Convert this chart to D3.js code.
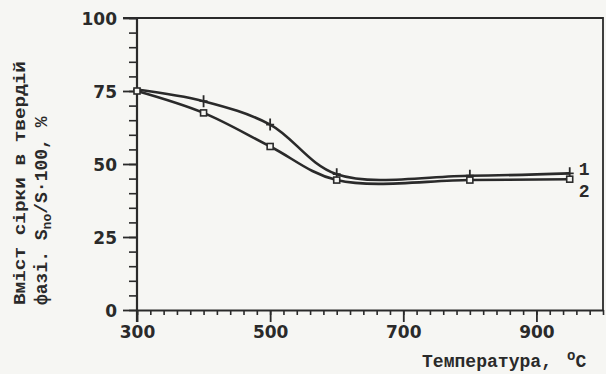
<!DOCTYPE html>
<html>
<head>
<meta charset="utf-8">
<script src="https://cdn.jsdelivr.net/npm/d3@7"></script>
<style>
  body { margin: 0; background: #f6f6f3; }
  svg { display: block; }
  .tick text { font-family: "DejaVu Sans", sans-serif; font-weight: bold; fill: #2a2a2a; }
  .domain, .tick line { stroke: #2a2a2a; }
</style>
</head>
<body>
<div id="chart"></div>
<script>
// temperatures (°C) where the points were measured
var temps = [300, 400, 500, 600, 800, 950];
// curve 1 (crosses) and curve 2 (squares), % sulfur in solid phase
var curve1 = [75.5, 71.5, 63.5, 46.5, 46.0, 46.8];
var curve2 = [75.0, 67.5, 56.0, 44.5, 44.5, 44.8];
var xMajor = [300, 500, 700, 900];
var yMajor = [0, 25, 50, 75, 100];

var width = 606, height = 374;
var margin = {top: 18, right: 3, bottom: 64, left: 137};

var svg = d3.select("#chart").append("svg")
    .attr("width", width)
    .attr("height", height);

var x = d3.scaleLinear().domain([300, 1000]).range([margin.left, width - margin.right]);
var y = d3.scaleLinear().domain([0, 100]).range([height - margin.bottom, margin.top]);

var ink = "#2a2a2a";

// minor ticks first
svg.append("g")
    .attr("transform", "translate(" + margin.left + ",0)")
    .call(d3.axisLeft(y).tickValues(d3.range(0, 101, 5)).tickSize(8).tickFormat(""))
    .call(function(g) { g.select(".domain").remove(); })
    .selectAll("line").attr("stroke-width", 1.6);

svg.append("g")
    .attr("transform", "translate(0," + y(0) + ")")
    .call(d3.axisBottom(x).tickValues(d3.range(300, 1001, 20)).tickSize(5).tickFormat(""))
    .call(function(g) { g.select(".domain").remove(); })
    .selectAll("line").attr("stroke-width", 1.6);

// major y axis
var yAxis = svg.append("g")
    .attr("transform", "translate(" + margin.left + ",0)")
    .call(d3.axisLeft(y).tickValues(yMajor).tickSize(14).tickPadding(6).tickSizeOuter(0));
yAxis.select(".domain").attr("stroke-width", 2.2).attr("d", "M0," + margin.top + "V" + (y(0) + 12));
yAxis.selectAll(".tick line").attr("stroke-width", 1.8);
yAxis.selectAll(".tick text").attr("font-size", 17).attr("dy", "0.36em");

// major x axis
var xAxis = svg.append("g")
    .attr("transform", "translate(0," + y(0) + ")")
    .call(d3.axisBottom(x).tickValues(xMajor).tickSize(12).tickPadding(4).tickSizeOuter(0));
xAxis.select(".domain").attr("stroke-width", 2.2);
xAxis.selectAll(".tick line").attr("stroke-width", 1.8);
xAxis.selectAll(".tick text").attr("font-size", 17);

// frame (top and right)
svg.append("path")
    .attr("d", "M" + (margin.left - 14) + "," + y(100) + "H" + x(1000) + "V" + y(0))
    .attr("fill", "none").attr("stroke", ink).attr("stroke-width", 1.8);

// curves
var line = d3.line()
    .x(function(d) { return x(d[0]); })
    .y(function(d) { return y(d[1]); })
    .curve(d3.curveCatmullRom.alpha(0.5));

var pts1 = temps.map(function(t, i) { return [t, curve1[i]]; });
var pts2 = temps.map(function(t, i) { return [t, curve2[i]]; });

[pts1, pts2].forEach(function(p) {
  svg.append("path")
      .datum(p)
      .attr("d", line)
      .attr("fill", "none")
      .attr("stroke", ink)
      .attr("stroke-width", 2.6);
});

// markers curve 1: vertical crosses
svg.selectAll(".m1").data(pts1).enter().append("path")
    .attr("class", "m1")
    .attr("d", function(d) {
      var cx = x(d[0]), cy = y(d[1]);
      return "M" + cx + "," + (cy - 6) + "V" + (cy + 6) + "M" + (cx - 4) + "," + cy + "H" + (cx + 4);
    })
    .attr("stroke", ink).attr("stroke-width", 1.8);

// markers curve 2: small open squares
svg.selectAll(".m2").data(pts2).enter().append("rect")
    .attr("class", "m2")
    .attr("x", function(d) { return x(d[0]) - 3; })
    .attr("y", function(d) { return y(d[1]) - 3; })
    .attr("width", 6).attr("height", 6)
    .attr("fill", "#f6f6f3").attr("stroke", ink).attr("stroke-width", 1.6);

// curve numbers
var mono = "'Liberation Mono', 'DejaVu Sans Mono', monospace";
svg.append("text").attr("x", x(950) + 9).attr("y", y(curve1[5]) + 2)
    .attr("font-family", mono).attr("font-weight", "bold").attr("font-size", 18)
    .attr("fill", ink).text("1");
svg.append("text").attr("x", x(950) + 9).attr("y", y(curve2[5]) + 18)
    .attr("font-family", mono).attr("font-weight", "bold").attr("font-size", 18)
    .attr("fill", ink).text("2");

// x title
var xt = svg.append("text")
    .attr("x", 422).attr("y", 367)
    .attr("font-family", mono).attr("font-weight", "bold").attr("font-size", 18)
    .attr("fill", ink);
xt.append("tspan").text("Температура,").attr("textLength", 130).attr("lengthAdjust", "spacingAndGlyphs");
xt.append("tspan").attr("x", 567).attr("dy", -7).attr("font-size", 14).text("o");
xt.append("tspan").attr("dy", 7).text("C");

// y title, two lines rotated
svg.append("text")
    .attr("transform", "translate(25,305) rotate(-90)")
    .attr("font-family", mono).attr("font-weight", "bold").attr("font-size", 17)
    .attr("fill", ink)
    .attr("textLength", 244).attr("lengthAdjust", "spacingAndGlyphs")
    .text("Вміст сірки в твердій");

var yt2 = svg.append("text")
    .attr("transform", "translate(47,305) rotate(-90)")
    .attr("font-family", mono).attr("font-weight", "bold").attr("font-size", 18)
    .attr("fill", ink);
yt2.append("tspan").text("фазі. S");
yt2.append("tspan").attr("dy", 4).attr("font-size", 13).text("no");
yt2.append("tspan").attr("dy", -4).text("/S·100, %");
</script>
</body>
</html>
